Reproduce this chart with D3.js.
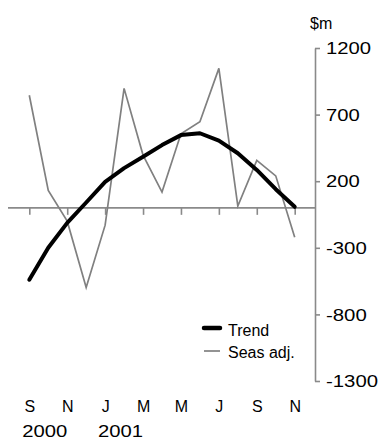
<!DOCTYPE html>
<html>
<head>
<meta charset="utf-8">
<script src="https://cdn.jsdelivr.net/npm/d3@7"></script>
<style>
  html, body { margin: 0; padding: 0; background: #fff; }
  svg { display: block; }
  text { font-family: "Liberation Sans", Arial, sans-serif; font-size: 16px; fill: #000; }
</style>
</head>
<body>
<svg id="chart" width="382" height="438"></svg>
<script>
// ---- data ----
const categories = ["Sep 2000","Oct 2000","Nov 2000","Dec 2000","Jan 2001","Feb 2001","Mar 2001",
  "Apr 2001","May 2001","Jun 2001","Jul 2001","Aug 2001","Sep 2001","Oct 2001","Nov 2001"];
const trend = [-540, -300, -113, 40, 195, 298, 383, 471, 546, 560, 505, 410, 285, 140, 8];
const seasAdj = [845, 130, -100, -598, -130, 897, 396, 118, 556, 646, 1047, 13, 356, 240, -220];
const monthLabels = ["S","N","J","M","M","J","S","N"];
const yearLabels = [{cat: "Sep 2000", text: "2000"}, {cat: "Jan 2001", text: "2001"}];
const yTicks = [1200, 700, 200, -300, -800, -1300];
const unitLabel = "$m";
const seriesNames = ["Trend", "Seas adj."];

// ---- layout ----
const svg = d3.select("#chart");
const x = d3.scalePoint().domain(categories).range([29.3, 294.7]);
const y = d3.scaleLinear().domain([-1300, 1200]).range([381, 48]);
const axisX = 315;
const grey = "#8a8a8a";

function numWidth(s) {
  let w = 0;
  for (const c of s) w += (c === "-") ? 7 : 11.25;
  return w;
}

// zero line
svg.append("line")
  .attr("x1", 8).attr("x2", axisX)
  .attr("y1", y(0)).attr("y2", y(0))
  .attr("stroke", grey).attr("stroke-width", 1.6);

// x ticks on the zero line
const tickCats = categories.filter((d, i) => i % 2 === 0);
const xTickAxis = svg.append("g").attr("transform", `translate(0,${y(0)})`)
  .call(d3.axisBottom(x).tickValues(tickCats).tickSize(7).tickFormat(""));
xTickAxis.select(".domain").remove();
xTickAxis.selectAll("line").attr("stroke", grey).attr("stroke-width", 1.6);

// month labels
const xLabAxis = svg.append("g").attr("transform", "translate(0,398)")
  .call(d3.axisBottom(x).tickValues(tickCats).tickSize(0).tickPadding(3)
    .tickFormat((d, i) => monthLabels[i]));
xLabAxis.select(".domain").remove();
xLabAxis.selectAll("text").attr("font-size", null).attr("font-family", null).attr("fill", "#000");

// year labels
svg.selectAll("text.year").data(yearLabels).join("text")
  .attr("class", "year")
  .attr("x", d => x(d.cat) - 7)
  .attr("y", 436.5)
  .attr("text-anchor", "start")
  .attr("textLength", d => numWidth(d.text))
  .attr("lengthAdjust", "spacingAndGlyphs")
  .text(d => d.text);

// y axis on the right
const yAx = svg.append("g").attr("transform", `translate(${axisX},0)`)
  .call(d3.axisRight(y).tickValues(yTicks).tickSize(5).tickSizeOuter(0).tickPadding(6)
    .tickFormat(d => String(d)));
yAx.select(".domain").attr("stroke", grey).attr("stroke-width", 1.6);
yAx.selectAll("line").attr("stroke", grey).attr("stroke-width", 1.6);
yAx.selectAll("text")
  .attr("font-size", null).attr("font-family", null).attr("fill", "#000")
  .attr("dy", "0.36em")
  .attr("textLength", d => numWidth(String(d)))
  .attr("lengthAdjust", "spacingAndGlyphs");

// unit label
svg.append("text").attr("x", 310).attr("y", 28.5).text(unitLabel);

// lines
const line = d3.line().x((d, i) => x(categories[i])).y(d => y(d));
svg.append("path").datum(seasAdj)
  .attr("d", line).attr("fill", "none")
  .attr("stroke", "#808080").attr("stroke-width", 1.7).attr("stroke-linejoin", "miter");
svg.append("path").datum(trend)
  .attr("d", line).attr("fill", "none")
  .attr("stroke", "#000").attr("stroke-width", 4).attr("stroke-linecap", "round").attr("stroke-linejoin", "round");

// legend
const legend = [
  {name: seriesNames[0], color: "#000", width: 4.5, ly: 328, ty: 335.5},
  {name: seriesNames[1], color: "#808080", width: 1.7, ly: 351, ty: 358}
];
const lg = svg.append("g");
lg.selectAll("line").data(legend).join("line")
  .attr("x1", 204).attr("x2", 220)
  .attr("y1", d => d.ly).attr("y2", d => d.ly)
  .attr("stroke", d => d.color).attr("stroke-width", d => d.width)
  .attr("stroke-linecap", d => d.width > 3 ? "round" : "butt");
lg.selectAll("text").data(legend).join("text")
  .attr("x", 228).attr("y", d => d.ty).text(d => d.name);
</script>
</body>
</html>
